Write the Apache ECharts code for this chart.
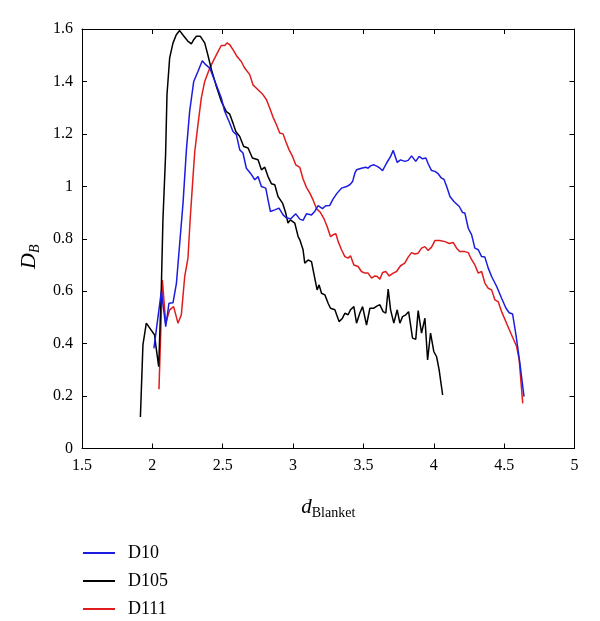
<!DOCTYPE html>
<html>
<head>
<meta charset="utf-8">
<script src="https://cdn.jsdelivr.net/npm/echarts@6/dist/echarts.min.js"></script>
<style>
html,body{margin:0;padding:0;background:#fff;}
#chart{width:600px;height:621px;}
</style>
</head>
<body>
<div id="chart"></div>
<script>
const seriesNames = ['D10', 'D105', 'D111'];
const xTicks = { min: 1.5, max: 5, interval: 0.5 };
const yTicks = { min: 0, max: 1.6, interval: 0.2 };

const d10 = [[2.011,0.382],[2.064,0.60],[2.095,0.465],[2.118,0.554],[2.147,0.556],[2.171,0.63],[2.194,0.78],[2.218,0.936],[2.242,1.139],[2.265,1.286],[2.294,1.40],[2.324,1.438],[2.355,1.479],[2.379,1.464],[2.408,1.451],[2.431,1.419],[2.459,1.381],[2.49,1.337],[2.514,1.286],[2.545,1.247],[2.573,1.209],[2.597,1.197],[2.621,1.139],[2.644,1.127],[2.668,1.069],[2.697,1.05],[2.728,1.025],[2.751,1.037],[2.775,0.999],[2.806,0.993],[2.822,0.948],[2.839,0.904],[2.87,0.91],[2.9,0.917],[2.929,0.891],[2.953,0.879],[2.984,0.876],[3.019,0.895],[3.048,0.875],[3.071,0.87],[3.095,0.895],[3.131,0.891],[3.154,0.904],[3.178,0.926],[3.209,0.915],[3.232,0.926],[3.261,0.927],[3.284,0.951],[3.313,0.974],[3.344,0.993],[3.38,0.999],[3.403,1.006],[3.423,1.018],[3.439,1.05],[3.451,1.063],[3.486,1.069],[3.517,1.073],[3.533,1.069],[3.55,1.078],[3.574,1.082],[3.598,1.076],[3.617,1.069],[3.636,1.06],[3.664,1.088],[3.693,1.114],[3.712,1.137],[3.74,1.091],[3.764,1.101],[3.794,1.095],[3.818,1.099],[3.842,1.116],[3.872,1.095],[3.896,1.114],[3.92,1.105],[3.944,1.108],[3.96,1.086],[3.984,1.06],[4.008,1.057],[4.031,1.048],[4.055,1.031],[4.072,1.027],[4.091,1.0],[4.115,0.961],[4.143,0.942],[4.181,0.923],[4.205,0.90],[4.221,0.898],[4.245,0.84],[4.269,0.815],[4.292,0.764],[4.316,0.758],[4.34,0.732],[4.363,0.73],[4.387,0.688],[4.411,0.656],[4.447,0.618],[4.482,0.573],[4.513,0.535],[4.536,0.518],[4.56,0.513],[4.584,0.433],[4.612,0.325],[4.641,0.198]];

const d105 = [[1.915,0.12],[1.933,0.395],[1.957,0.478],[2.016,0.433],[2.023,0.40],[2.045,0.312],[2.064,0.617],[2.075,0.87],[2.094,1.12],[2.104,1.35],[2.123,1.49],[2.147,1.547],[2.17,1.578],[2.194,1.594],[2.22,1.575],[2.25,1.555],[2.277,1.543],[2.295,1.56],[2.313,1.572],[2.341,1.572],[2.372,1.547],[2.395,1.50],[2.42,1.445],[2.455,1.381],[2.49,1.324],[2.526,1.285],[2.55,1.275],[2.573,1.241],[2.593,1.209],[2.621,1.19],[2.649,1.152],[2.68,1.146],[2.711,1.108],[2.751,1.101],[2.775,1.063],[2.799,1.073],[2.822,1.037],[2.846,1.01],[2.87,1.006],[2.893,0.961],[2.925,0.936],[2.948,0.898],[2.964,0.86],[2.981,0.872],[3.012,0.86],[3.036,0.808],[3.048,0.796],[3.071,0.758],[3.083,0.707],[3.107,0.719],[3.131,0.713],[3.147,0.669],[3.171,0.605],[3.185,0.624],[3.202,0.592],[3.226,0.586],[3.249,0.554],[3.266,0.535],[3.297,0.529],[3.327,0.484],[3.351,0.497],[3.368,0.516],[3.391,0.51],[3.408,0.529],[3.432,0.541],[3.451,0.478],[3.474,0.516],[3.494,0.541],[3.522,0.471],[3.546,0.535],[3.574,0.535],[3.598,0.544],[3.617,0.548],[3.64,0.522],[3.659,0.516],[3.676,0.608],[3.693,0.529],[3.716,0.478],[3.74,0.529],[3.759,0.478],[3.778,0.503],[3.801,0.51],[3.821,0.522],[3.849,0.421],[3.872,0.417],[3.889,0.526],[3.913,0.44],[3.937,0.497],[3.956,0.338],[3.977,0.44],[4.0,0.37],[4.02,0.35],[4.038,0.30],[4.063,0.204]];

const d111 = [[2.047,0.226],[2.071,0.643],[2.095,0.478],[2.123,0.529],[2.151,0.541],[2.182,0.478],[2.206,0.51],[2.23,0.656],[2.253,0.726],[2.27,0.885],[2.289,1.037],[2.301,1.13],[2.324,1.235],[2.348,1.337],[2.372,1.40],[2.408,1.451],[2.443,1.489],[2.474,1.521],[2.49,1.537],[2.514,1.537],[2.531,1.547],[2.55,1.54],[2.573,1.521],[2.602,1.495],[2.633,1.475],[2.656,1.451],[2.692,1.426],[2.715,1.387],[2.751,1.368],[2.787,1.349],[2.811,1.33],[2.834,1.299],[2.858,1.263],[2.882,1.235],[2.905,1.203],[2.929,1.2],[2.948,1.171],[2.972,1.139],[2.996,1.114],[3.019,1.082],[3.048,1.072],[3.071,1.028],[3.095,0.996],[3.119,0.974],[3.142,0.948],[3.166,0.915],[3.195,0.9],[3.218,0.878],[3.242,0.847],[3.266,0.808],[3.284,0.815],[3.304,0.819],[3.32,0.79],[3.344,0.758],[3.368,0.732],[3.391,0.726],[3.408,0.735],[3.432,0.70],[3.462,0.694],[3.486,0.675],[3.51,0.669],[3.533,0.669],[3.558,0.65],[3.581,0.658],[3.598,0.656],[3.617,0.646],[3.636,0.671],[3.659,0.675],[3.683,0.658],[3.712,0.669],[3.735,0.675],[3.764,0.697],[3.794,0.707],[3.818,0.73],[3.842,0.747],[3.865,0.742],[3.889,0.745],[3.913,0.764],[3.937,0.77],[3.96,0.755],[3.984,0.768],[4.008,0.793],[4.043,0.793],[4.079,0.789],[4.11,0.782],[4.138,0.786],[4.162,0.764],[4.185,0.751],[4.221,0.751],[4.245,0.747],[4.269,0.72],[4.292,0.70],[4.316,0.669],[4.34,0.675],[4.363,0.631],[4.387,0.611],[4.411,0.605],[4.434,0.567],[4.458,0.56],[4.482,0.522],[4.517,0.478],[4.553,0.433],[4.589,0.389],[4.607,0.338],[4.632,0.172]];

const seriesData = [d10, d105, d111];
const colors = ['#1c1ce0', '#000000', '#e01c1c'];

const FONT = '"Liberation Serif", "DejaVu Serif", serif';
const chart = echarts.init(document.getElementById('chart'), null, { renderer: 'canvas' });

function mkX(pos, showLabel, name) {
  return {
    type: 'value', position: pos, min: xTicks.min, max: xTicks.max, interval: xTicks.interval,
    axisLine: { show: true, onZero: false, lineStyle: { color: '#000', width: 1 } },
    axisTick: { show: true, inside: true, length: 5, lineStyle: { color: '#000' } },
    axisLabel: { show: showLabel, color: '#000', fontFamily: FONT, fontSize: 16, margin: 9 },
    splitLine: { show: false },
    name: name || '', nameLocation: 'middle', nameGap: 46,
    nameTextStyle: {
      color: '#000', fontFamily: FONT,
      rich: {
        i: { fontFamily: FONT, fontStyle: 'italic', fontSize: 21, color: '#000', lineHeight: 26, verticalAlign: 'middle' },
        s: { fontFamily: FONT, fontSize: 14, color: '#000', lineHeight: 26, verticalAlign: 'bottom' }
      }
    }
  };
}
function mkY(pos, showLabel, name) {
  return {
    type: 'value', position: pos, min: yTicks.min, max: yTicks.max, interval: yTicks.interval,
    axisLine: { show: true, onZero: false, lineStyle: { color: '#000', width: 1 } },
    axisTick: { show: true, inside: true, length: 5, lineStyle: { color: '#000' } },
    axisLabel: { show: showLabel, color: '#000', fontFamily: FONT, fontSize: 16, margin: 9 },
    splitLine: { show: false },
    name: name || '', nameLocation: 'middle', nameGap: 38, nameRotate: 90,
    nameTextStyle: {
      color: '#000', fontFamily: FONT, padding: [0, 36, 0, 0],
      rich: {
        i: { fontFamily: FONT, fontStyle: 'italic', fontSize: 22, color: '#000', lineHeight: 26, verticalAlign: 'middle' },
        s: { fontFamily: FONT, fontStyle: 'italic', fontSize: 14, color: '#000', lineHeight: 26, verticalAlign: 'bottom' }
      }
    }
  };
}

const option = {
  backgroundColor: '#fff',
  animation: false,
  grid: { left: 82, right: 25.5, top: 29, bottom: 172.5, containLabel: false },
  xAxis: [mkX('bottom', true, '{i|d}{s|Blanket}'), mkX('top', false, '')],
  yAxis: [mkY('left', true, '{i|D}{s|B}'), mkY('right', false, '')],
  legend: {
    orient: 'vertical', left: 83, top: 544, padding: 0,
    itemWidth: 32, itemHeight: 2, itemGap: 10, icon: 'rect',
    textStyle: { color: '#000', fontFamily: FONT, fontSize: 18, lineHeight: 18, padding: [0, 0, 0, 8] },
    data: seriesNames
  },
  series: seriesNames.map((n, i) => ({
    name: n, type: 'line', xAxisIndex: 0, yAxisIndex: 0,
    data: seriesData[i], showSymbol: false, symbol: 'none',
    lineStyle: { color: colors[i], width: 1.5 },
    itemStyle: { color: colors[i] },
    z: 3 - i
  }))
};
chart.setOption(option);
</script>
</body>
</html>
